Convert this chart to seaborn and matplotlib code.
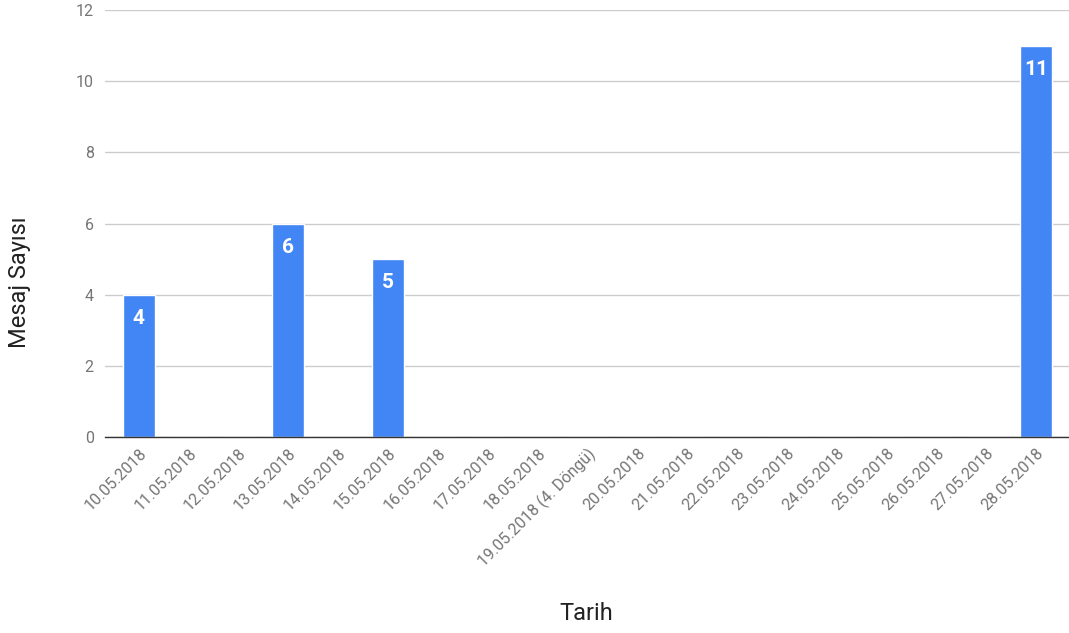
import matplotlib
matplotlib.use('Agg')
import matplotlib.pyplot as plt
import seaborn as sns
import pandas as pd

# Data
dates = ['10.05.2018', '11.05.2018', '12.05.2018', '13.05.2018', '14.05.2018',
         '15.05.2018', '16.05.2018', '17.05.2018', '18.05.2018',
         '19.05.2018 (4. Döngü)', '20.05.2018', '21.05.2018', '22.05.2018',
         '23.05.2018', '24.05.2018', '25.05.2018', '26.05.2018', '27.05.2018',
         '28.05.2018']
messages = [4, 0, 0, 6, 0, 5, 0, 0, 0, 0, 0, 0, 0, 0, 0, 0, 0, 0, 11]
yticks = [0, 2, 4, 6, 8, 10, 12]

df = pd.DataFrame({'Tarih': dates, 'Mesaj Sayısı': messages})

sns.set_style('white')
plt.rcParams['font.family'] = ['Roboto', 'DejaVu Sans']

fig = plt.figure(figsize=(10.69, 6.33), dpi=100)
ax = fig.add_axes([0.0982, 0.3096, 0.9018, 0.6746])

sns.barplot(data=df, x='Tarih', y='Mesaj Sayısı', color='#4285F4',
            saturation=1, width=0.64, ax=ax, zorder=3)

labels = [str(v) if v else '' for v in messages]
ax.bar_label(ax.containers[0], labels=labels, label_type='edge', padding=-24,
             color='white', fontsize=15, fontweight='bold')

ax.set_ylim(0, 12)
ax.set_xlim(-0.68, 18.66)
ax.set_yticks(yticks)
ax.grid(axis='y', color='#cccccc', linewidth=1, zorder=0)
for s in ['top', 'right', 'left']:
    ax.spines[s].set_visible(False)
ax.spines['bottom'].set_color('#333333')
ax.spines['bottom'].set_linewidth(1)
ax.spines['bottom'].set_zorder(4)

ax.tick_params(axis='both', length=0, colors='#757575', labelsize=11.5)
ax.tick_params(axis='y', pad=8)
ax.tick_params(axis='x', pad=6)
plt.setp(ax.get_xticklabels(), rotation=45, ha='right', rotation_mode='anchor')

ax.set_xlabel('Tarih', fontsize=17, color='#222222')
ax.set_ylabel('Mesaj Sayısı', fontsize=17, color='#222222')
ax.xaxis.set_label_coords((586 - 105) / 964, -(602 - 437) / 427)
ax.yaxis.set_label_coords(-(105 - 31) / 964, (437 - 282) / 427)

fig.savefig('out.png', dpi=100)
